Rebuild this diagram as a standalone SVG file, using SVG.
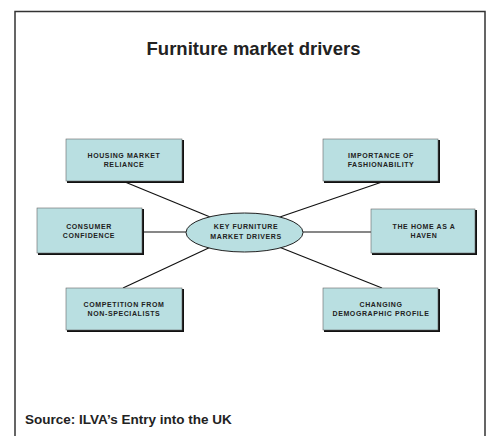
<svg xmlns="http://www.w3.org/2000/svg" width="487" height="436" viewBox="0 0 487 436">
  <style>
    .frame { fill: none; stroke: #333; stroke-width: 1.5; }
    .title { font-family: "Liberation Sans", Arial, sans-serif; font-weight: bold; font-size: 18.5px; fill: #222; }
    .source { font-family: "Liberation Sans", Arial, sans-serif; font-weight: bold; font-size: 13.5px; fill: #222; }
    .shadow { fill: #111; }
    .box { fill: #b9dfe1; stroke: #666; stroke-width: 0.6; }
    .lbl { font-family: "Liberation Sans", Arial, sans-serif; font-weight: bold; font-size: 7px; letter-spacing: 0.6px; fill: #222; text-anchor: middle; }
    .link { stroke: #111; stroke-width: 1.2; fill: none; }
  </style>
  <rect width="487" height="436" fill="#fff"/>
  <path class="frame" d="M15,437 V11.5 H485 V437"/>
  <text class="title" x="253.5" y="55" text-anchor="middle">Furniture market drivers</text>

  <g id="connectors">
    <line class="link" x1="125" y1="182" x2="215" y2="219"/>
    <line class="link" x1="382" y1="182" x2="274" y2="219"/>
    <line class="link" x1="143" y1="232" x2="190" y2="232"/>
    <line class="link" x1="300" y1="232" x2="371" y2="232"/>
    <line class="link" x1="123" y1="288" x2="215" y2="245"/>
    <line class="link" x1="382" y1="288" x2="274" y2="245"/>
  </g>

  <g id="hub">
    <ellipse cx="244.5" cy="232.5" rx="58.5" ry="19.5" class="box" style="stroke:#222;stroke-width:1"/>
    <text class="lbl" x="246" y="229">KEY FURNITURE</text>
    <text class="lbl" x="246" y="239">MARKET DRIVERS</text>
  </g>

  <g id="housing">
    <rect class="shadow" x="67" y="140" width="117" height="43"/>
    <rect class="box" x="66" y="139" width="116" height="42"/>
    <text class="lbl" x="124" y="158">HOUSING MARKET</text>
    <text class="lbl" x="124" y="167">RELIANCE</text>
  </g>

  <g id="fashion">
    <rect class="shadow" x="324" y="140" width="116" height="43"/>
    <rect class="box" x="323" y="139" width="115" height="42"/>
    <text class="lbl" x="381" y="158">IMPORTANCE OF</text>
    <text class="lbl" x="381" y="167">FASHIONABILITY</text>
  </g>

  <g id="consumer">
    <rect class="shadow" x="38" y="209" width="106" height="46"/>
    <rect class="box" x="37" y="208" width="105" height="45"/>
    <text class="lbl" x="89" y="229">CONSUMER</text>
    <text class="lbl" x="89" y="238">CONFIDENCE</text>
  </g>

  <g id="haven">
    <rect class="shadow" x="372" y="210" width="105" height="45"/>
    <rect class="box" x="371" y="209" width="104" height="44"/>
    <text class="lbl" x="424" y="229">THE HOME AS A</text>
    <text class="lbl" x="424" y="238">HAVEN</text>
  </g>

  <g id="competition">
    <rect class="shadow" x="67" y="289" width="117" height="43"/>
    <rect class="box" x="66" y="288" width="116" height="42"/>
    <text class="lbl" x="124" y="307">COMPETITION FROM</text>
    <text class="lbl" x="124" y="316">NON-SPECIALISTS</text>
  </g>

  <g id="demographic">
    <rect class="shadow" x="324" y="289" width="116" height="43"/>
    <rect class="box" x="323" y="288" width="115" height="42"/>
    <text class="lbl" x="381" y="307">CHANGING</text>
    <text class="lbl" x="381" y="316">DEMOGRAPHIC PROFILE</text>
  </g>

  <text class="source" x="25" y="424">Source: ILVA’s Entry into the UK</text>
</svg>
